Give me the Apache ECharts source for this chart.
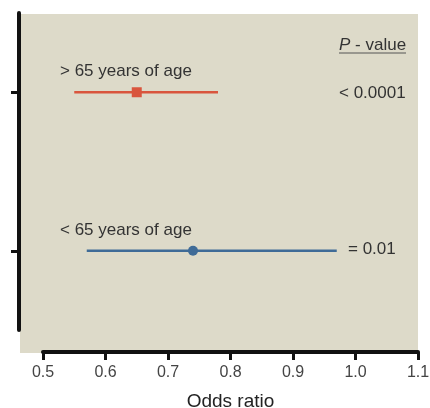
<!DOCTYPE html>
<html><head><meta charset="utf-8">
<script src="https://cdn.jsdelivr.net/npm/echarts@6/dist/echarts.min.js"></script>
<style>html,body{margin:0;padding:0;background:#fff}#c{width:430px;height:408px}</style>
</head><body><div id="c"></div>
<script>
const groups = ['> 65 years of age', '< 65 years of age'];
const groupY = [3, 1];
const oddsRatio = [0.65, 0.74];
const lowerCI = [0.55, 0.57];
const upperCI = [0.78, 0.97];
const pValues = ['< 0.0001', '= 0.01'];
const colors = ['#d9553d', '#3f6b97'];
const symbols = ['rect', 'circle'];
const xTicks = [0.5, 0.6, 0.7, 0.8, 0.9, 1.0, 1.1];

const chart = echarts.init(document.getElementById('c'));
const series = [];
groups.forEach((g, i) => {
  series.push({
    type: 'line', data: [[lowerCI[i], groupY[i]], [upperCI[i], groupY[i]]],
    symbol: 'none', lineStyle: {color: colors[i], width: 2.5}, silent: true, z: 2
  });
  series.push({
    type: 'scatter', data: [[oddsRatio[i], groupY[i]]], symbol: symbols[i],
    symbolSize: 10, itemStyle: {color: colors[i], opacity: 1}, z: 3
  });
});
const font = 'Liberation Sans, Arial, sans-serif';
chart.setOption({
  animation: false,
  graphic: [
    {type: 'rect', shape: {x: 20, y: 14, width: 398, height: 339}, style: {fill: '#dddac9'}, z: -10},
    {type: 'text', x: 60, y: 71, style: {text: groups[0], font: '17px ' + font, fill: '#333', verticalAlign: 'middle'}},
    {type: 'text', x: 60, y: 230, style: {text: groups[1], font: '17px ' + font, fill: '#333', verticalAlign: 'middle'}},
    {type: 'text', x: 339, y: 45, style: {
      text: '{i|P} - value', font: '17px ' + font, fill: '#333', verticalAlign: 'middle',
      rich: {i: {fontStyle: 'italic', font: 'italic 17px ' + font, fill: '#333'}}}},
    {type: 'line', shape: {x1: 339, y1: 53, x2: 406, y2: 53}, style: {stroke: '#555', lineWidth: 1}},
    {type: 'text', x: 339, y: 93, style: {text: pValues[0], font: '17px ' + font, fill: '#333', verticalAlign: 'middle'}},
    {type: 'text', x: 348, y: 249, style: {text: pValues[1], font: '17px ' + font, fill: '#333', verticalAlign: 'middle'}}
  ],
  grid: {left: 43, right: 12, top: 13, bottom: 78, containLabel: false, outerBoundsMode: 'none'},
  xAxis: {
    type: 'value', min: 0.5, max: 1.1, interval: 0.1, offset: 22,
    axisLine: {show: true, onZero: false, lineStyle: {color: '#111', width: 4}},
    axisTick: {show: true, length: 8, lineStyle: {color: '#111', width: 3}},
    splitLine: {show: false},
    axisLabel: {color: '#444', fontSize: 16, fontFamily: font, margin: 13,
      formatter: v => v.toFixed(1)},
    name: 'Odds ratio', nameLocation: 'middle', nameGap: 40,
    nameTextStyle: {color: '#222', fontSize: 19, fontFamily: font}
  },
  yAxis: {
    type: 'value', min: 0, max: 4, interval: 2, offset: 24,
    axisLine: {show: true, onZero: false, lineStyle: {color: '#111', width: 4}},
    axisTick: {show: true, length: 8, lineStyle: {color: '#111', width: 3},
      customValues: groupY},
    axisLabel: {show: false}, splitLine: {show: false}
  },
  series: series
});
</script></body></html>
